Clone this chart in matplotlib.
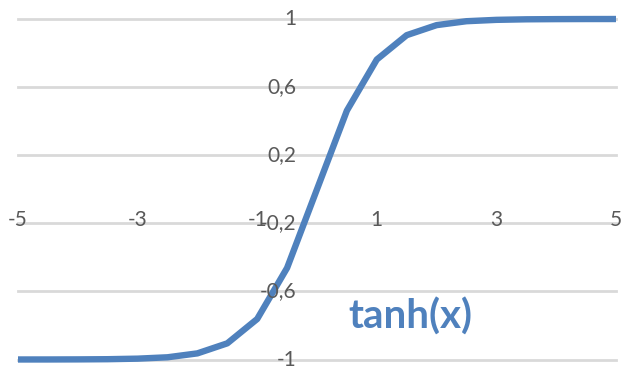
import matplotlib
matplotlib.use('Agg')
from matplotlib import pyplot as plt

x_vals = [-5, -4.5, -4, -3.5, -3, -2.5, -2, -1.5, -1, -0.5, 0,
          0.5, 1, 1.5, 2, 2.5, 3, 3.5, 4, 4.5, 5]
y_vals = [-0.9999, -0.9998, -0.9993, -0.9982, -0.995, -0.987, -0.964, -0.905, -0.762, -0.462, 0.0,
          0.462, 0.762, 0.905, 0.964, 0.987, 0.995, 0.9982, 0.9993, 0.9998, 0.9999]

x_ticks = [-5, -3, -1, 1, 3, 5]
x_labels = ['-5', '-3', '-1', '1', '3', '5']
y_ticks = [-1, -0.6, -0.2, 0.2, 0.6, 1]
y_labels = ['-1', '-0,6', '-0,2', '0,2', '0,6', '1']

blue = '#4F81BD'
grey_txt = '#595959'
plt.rcParams['font.family'] = ['Lato', 'DejaVu Sans']

fig = plt.figure(figsize=(6.31, 3.74), dpi=100)
W, H = 631, 374
# plot area in pixels: x -5..5 -> 18..616, y -1..1 -> 359..19
ax = fig.add_axes([18 / W, (H - 359.5) / H, (616 - 18) / W, (359.5 - 19) / H])
ax.set_xlim(-5, 5)
ax.set_ylim(-1, 1)
for s in ax.spines.values():
    s.set_visible(False)
ax.set_xticks([])
ax.set_yticks([])

# horizontal gridlines
for yv in y_ticks:
    ax.axhline(yv, color='#D9D9D9', lw=2.0, zorder=1, clip_on=False)

ax.plot(x_vals, y_vals, color=blue, lw=4.6, zorder=2, solid_capstyle='butt',
        solid_joinstyle='round', clip_on=False)

# y labels, right aligned left of the vertical axis
for yv, lab in zip(y_ticks, y_labels):
    ax.annotate(lab, xy=(0, yv), xytext=(-21, 0), textcoords='offset pixels',
                ha='right', va='center', fontsize=15, color=grey_txt, zorder=5)

# x labels below the horizontal axis
for xv, lab in zip(x_ticks, x_labels):
    ax.annotate(lab, xy=(xv, 0), xytext=(0, -31), textcoords='offset pixels',
                ha='center', va='center', fontsize=15, color=grey_txt, zorder=5)

ax.text(1.56, -0.75, 'tanh(x)', ha='center', va='center', fontsize=29,
        fontweight='bold', color=blue, zorder=5)

fig.savefig('out.png', dpi=100)
